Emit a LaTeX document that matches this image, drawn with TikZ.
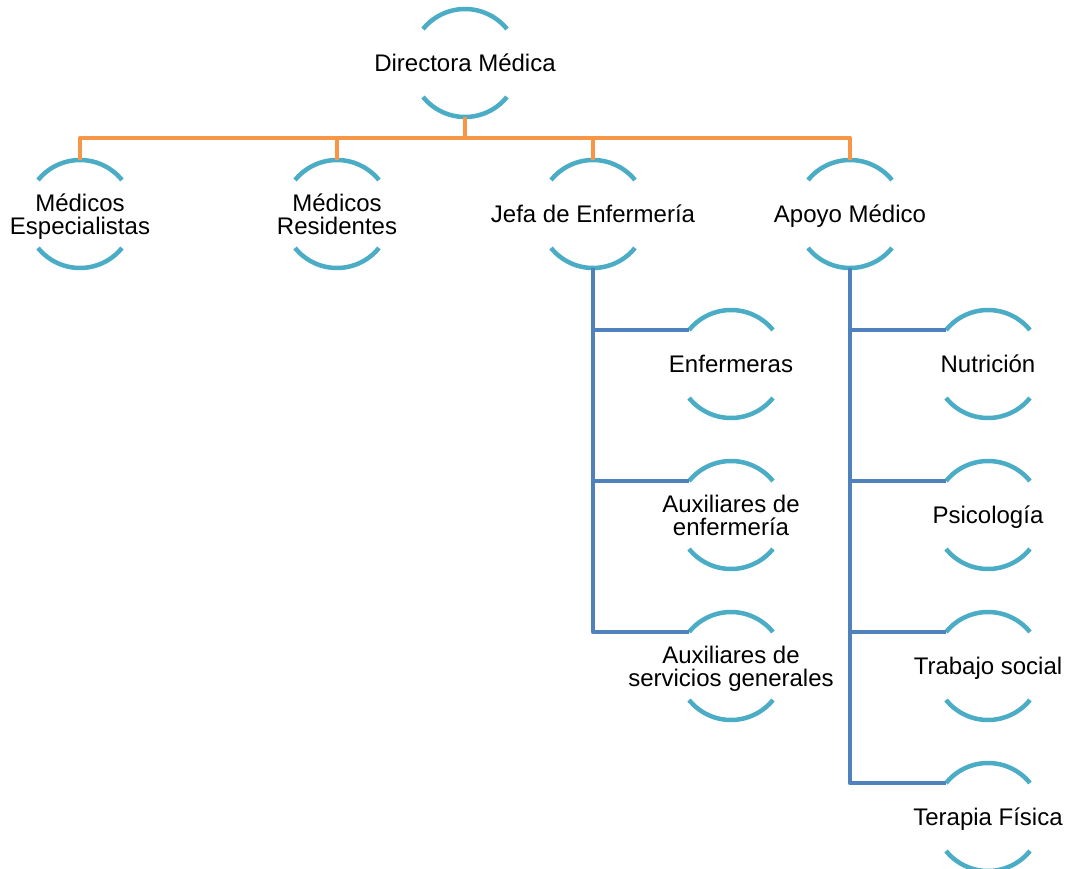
\documentclass[tikz,border=0pt]{standalone}
\usepackage{fontspec}
\setmainfont{Liberation Sans}
\definecolor{ringc}{HTML}{4BACC6}
\definecolor{orangec}{HTML}{F79646}
\definecolor{bluec}{HTML}{4F81BD}
\tikzset{
  ring/.style={circle, minimum size=108pt, inner sep=0pt, outer sep=0pt},
  lbl/.style={inner sep=0pt, outer sep=0pt, align=center, text height=17pt, text depth=0pt,
    font=\fontsize{24pt}{23pt}\selectfont},
  twoline/.style={text height=40pt},
  arcc/.style={draw=ringc, line width=4.5pt},
  oline/.style={draw=orangec, line width=4.5pt, line join=round},
  bline/.style={draw=bluec, line width=4.5pt, line join=round},
}
\newcommand\orgunit[5][]{%
  \node[ring] (#2) at (#3,#4) {};
  \node[lbl,#1] (#2-t) at (#2) {#5};
  \draw[arcc] (#2.39) arc[start angle=39, end angle=141, radius=54pt];
  \draw[arcc] (#2.219) arc[start angle=219, end angle=321, radius=54pt];
}
\begin{document}
\begin{tikzpicture}[x=1pt, y=-1pt]
\useasboundingbox (0,0) rectangle (1068,869);
\orgunit{dm}{465}{63}{Directora Médica}
\orgunit[twoline]{me}{80}{214}{Médicos\\Especialistas}
\orgunit[twoline]{mr}{337}{214}{Médicos\\Residentes}
\orgunit{je}{593}{214}{Jefa de Enfermería}
\orgunit{ap}{850}{214}{Apoyo Médico}
\orgunit{en}{731}{364}{Enfermeras}
\orgunit[twoline]{ax}{731}{515}{Auxiliares de\\enfermería}
\orgunit[twoline]{as}{731}{666}{Auxiliares de\\servicios generales}
\orgunit{nu}{988}{364}{Nutrición}
\orgunit{ps}{988}{515}{Psicología}
\orgunit{ts}{988}{666}{Trabajo social}
\orgunit{tf}{988}{817}{Terapia Física}
\coordinate (bus) at (465,138);
% orange connectors
\draw[oline] (dm.south) -- (dm.south |- bus);
\draw[oline] (me.north) -- (me.north |- bus) -- (ap.north |- bus) -- (ap.north);
\draw[oline] (mr.north) -- (mr.north |- bus);
\draw[oline] (je.north) -- (je.north |- bus);
% blue connectors
\draw[bline] (je.south) |- (en.141);
\draw[bline] (je.south) |- (ax.141);
\draw[bline] (je.south) |- (as.141);
\draw[bline] (ap.south) |- (nu.141);
\draw[bline] (ap.south) |- (ps.141);
\draw[bline] (ap.south) |- (ts.141);
\draw[bline] (ap.south) |- (tf.141);
\end{tikzpicture}
\end{document}
